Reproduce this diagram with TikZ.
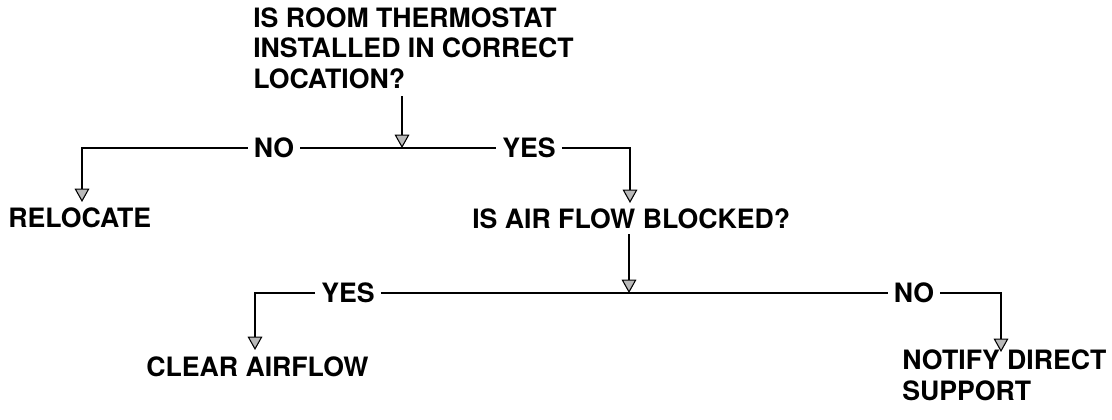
\documentclass[tikz,border=0pt]{standalone}
\usepackage{fontspec}
\setmainfont{TeX Gyre Heros}
\usetikzlibrary{arrows.meta}
\begin{document}
\begin{tikzpicture}[x=0.75pt,y=-0.75pt,
  txt/.style={font=\fontsize{20}{22.8}\selectfont\bfseries, inner sep=0pt, align=left},
  lbl/.style={font=\fontsize{20}{22.8}\selectfont\bfseries, inner xsep=4.5pt, inner ysep=0pt},
  ln/.style={line width=1.2pt},
  arr/.style={ln, -{Triangle[width=11pt,length=10pt,fill=gray!55,line width=0.8pt]}}]
\useasboundingbox (0,0) rectangle (1112,419);
% texts (base anchor = baseline of last line)
\node[txt, anchor=base west] (q1) at (253,88) {IS ROOM THERMOSTAT\\INSTALLED IN CORRECT\\LOCATION?};
\node[txt, anchor=base west] (relocate) at (8,227) {RELOCATE};
\node[txt, anchor=base west] (q2) at (472,228) {IS AIR FLOW BLOCKED?};
\node[txt, anchor=base west] (clear) at (146,376) {CLEAR AIRFLOW};
\node[txt, anchor=base west] (notify) at (902,400) {NOTIFY DIRECT\\SUPPORT};
% labels on the lines
\node[lbl] (no1) at (274,148) {NO};
\node[lbl] (yes1) at (529,148) {YES};
\node[lbl] (yes2) at (348,293) {YES};
\node[lbl] (no2) at (914,293) {NO};
% coordinates
\coordinate (s1) at (402,96);
\coordinate (j1) at (402,148);
\coordinate (t1) at (82,202);
\coordinate (t2) at (630,203);
\coordinate (s2) at (629,234);
\coordinate (j2) at (629,293);
\coordinate (t3) at (255,350);
\coordinate (t4) at (1001,352);
% connectors
\draw[arr] (s1) -- (j1);
\draw[ln] (no1) -- (yes1);
\draw[arr] (no1) -| (t1);
\draw[arr] (yes1) -| (t2);
\draw[arr] (s2) -- (j2);
\draw[ln] (yes2) -- (no2);
\draw[arr] (yes2) -| (t3);
\draw[arr] (no2) -| (t4);
\end{tikzpicture}
\end{document}
